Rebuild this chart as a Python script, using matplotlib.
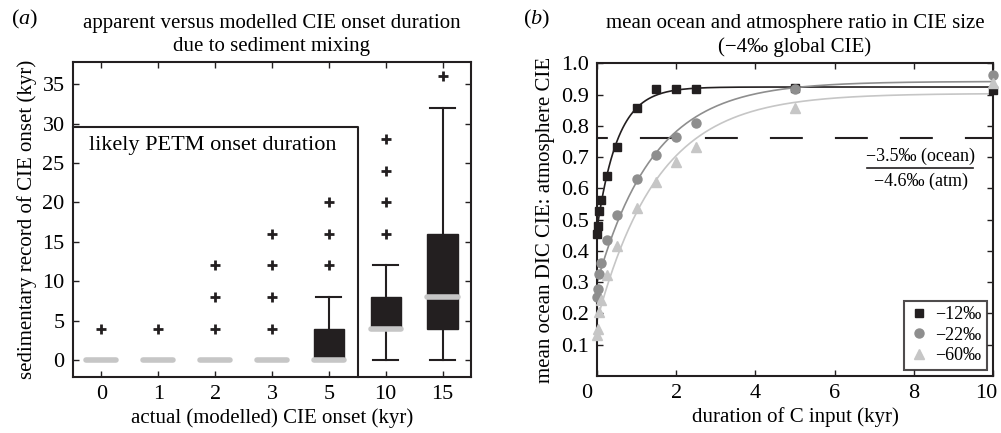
import matplotlib
matplotlib.use('Agg')
import matplotlib.pyplot as plt
import matplotlib.transforms as mtransforms
import numpy as np

plt.rcParams['font.family'] = ['Liberation Serif', 'DejaVu Serif']
plt.rcParams['mathtext.fontset'] = 'custom'
plt.rcParams['mathtext.rm'] = 'Liberation Serif'
plt.rcParams['mathtext.it'] = 'Liberation Serif:italic'

# panel (a): box plot summaries
onset_labels = ['0', '1', '2', '3', '5', '10', '15']
box_q1 = [0, 0, 0, 0, 0, 4, 4]
box_med = [0, 0, 0, 0, 0, 4, 8]
box_q3 = [0, 0, 0, 0, 4, 8, 16]
whisk_lo = [0, 0, 0, 0, 0, 0, 0]
whisk_hi = [0, 0, 0, 0, 8, 12, 32]
outliers = [[4], [4], [4, 8, 12], [4, 8, 12, 16], [12, 16, 20], [16, 20, 24, 28], [36]]

# panel (b): ocean/atmosphere CIE ratio
dur_sq = [0.0, 0.02, 0.05, 0.1, 0.25, 0.5, 1.0, 1.5, 2.0, 2.5, 5.0, 10.0]
ratio_12 = [0.455, 0.479, 0.527, 0.562, 0.64, 0.733, 0.858, 0.918, 0.918, 0.918, 0.92, 0.915]
dur_ci = [0.0, 0.02, 0.05, 0.1, 0.25, 0.5, 1.0, 1.5, 2.0, 2.5, 5.0, 10.0]
ratio_22 = [0.254, 0.279, 0.327, 0.362, 0.436, 0.516, 0.629, 0.706, 0.765, 0.808, 0.917, 0.963]
dur_tr = [0.0, 0.02, 0.05, 0.1, 0.25, 0.5, 1.0, 1.5, 2.0, 2.5, 5.0, 10.0]
ratio_60 = [0.131, 0.15, 0.204, 0.244, 0.324, 0.416, 0.538, 0.621, 0.683, 0.733, 0.858, 0.936]
ocean_atm = 0.762


def exp_fit(x, y):
    # y = a - b*exp(-x/tau), tau by grid search, a,b by least squares
    x = np.asarray(x)
    y = np.asarray(y)
    best = None
    for tau in np.linspace(0.1, 5, 500):
        A = np.column_stack([np.ones_like(x), -np.exp(-x / tau)])
        coef, res, _, _ = np.linalg.lstsq(A, y, rcond=None)
        err = np.sum((A @ coef - y) ** 2)
        if best is None or err < best[0]:
            best = (err, coef, tau)
    xs = np.linspace(x.min(), x.max(), 400)
    return xs, best[1][0] - best[1][1] * np.exp(-xs / best[2])


fig = plt.figure(figsize=(10.01, 4.33), dpi=100)
ax1 = fig.add_axes([0.0729, 0.1293, 0.3976, 0.7275])
ax2 = fig.add_axes([0.5964, 0.1316, 0.3956, 0.7222])

dark = '#231f20'

stats = []
for i in range(len(onset_labels)):
    stats.append({'q1': box_q1[i], 'med': box_med[i], 'q3': box_q3[i],
                  'whislo': whisk_lo[i], 'whishi': whisk_hi[i],
                  'fliers': outliers[i]})
ax1.bxp(stats, positions=range(len(onset_labels)), widths=0.53,
        capwidths=0.44, patch_artist=True, showcaps=True,
        boxprops=dict(facecolor=dark, edgecolor=dark, linewidth=1),
        medianprops=dict(color='#c6c6c6', linewidth=4, solid_capstyle='round'),
        whiskerprops=dict(color=dark, linewidth=1.5),
        capprops=dict(color=dark, linewidth=1.5),
        flierprops=dict(marker='+', markersize=7, markeredgewidth=2,
                        markeredgecolor=dark))
ax1.set_xlim(-0.5, 6.5)
ax1.set_ylim(-2.15, 37.8)
ax1.set_yticks(range(0, 36, 5))
ax1.set_xticks(range(len(onset_labels)))
ax1.set_xticklabels(onset_labels)
ax1.plot([-0.5, 4.51, 4.51], [29.5, 29.5, -2.15], color=dark, lw=1.5, clip_on=False)
ax1.text(1.96, 27.2, 'likely PETM onset duration', ha='center', va='center', fontsize=16)
ax1.set_xlabel('actual (modelled) CIE onset (kyr)', fontsize=15, labelpad=3)
ax1.set_ylabel('sedimentary record of CIE onset (kyr)', fontsize=15, labelpad=4)
ax1.set_title('apparent versus modelled CIE onset duration\ndue to sediment mixing',
              fontsize=15, linespacing=1.3, pad=8)
fig.text(0.011, 0.955, r'($\mathit{a}$)', fontsize=16, va='center')

series = [(dur_sq, ratio_12, 's', dark, 5.5, '\u221212\u2030'),
          (dur_ci, ratio_22, 'o', '#8e8e8e', 6.5, '\u221222\u2030'),
          (dur_tr, ratio_60, '^', '#c6c6c6', 7, '\u221260\u2030')]
for x, y, m, c, ms, lab in series:
    xs, ys = exp_fit(x, y)
    ax2.plot(xs, ys, color=c, lw=1.2, zorder=2)
for x, y, m, c, ms, lab in series:
    ax2.plot(x, y, m, color=c, markersize=ms, label=lab, zorder=3, clip_on=False)

ax2.plot([0, 10], [ocean_atm, ocean_atm], color=dark, lw=1.5,
         linestyle=(10.6, (15.8, 15.4)), zorder=1)
ax2.text(8.17, 0.703, '\u22123.5\u2030 (ocean)', ha='center', va='center', fontsize=13)
ax2.plot([6.82, 9.5], [0.664, 0.664], color=dark, lw=1.2)
ax2.text(8.17, 0.622, '\u22124.6\u2030 (atm)', ha='center', va='center', fontsize=13)

ax2.set_xlim(0, 10)
ax2.set_ylim(0, 1)
ax2.set_xticks(range(0, 11, 2))
ax2.set_yticks(np.round(np.arange(0.1, 1.01, 0.1), 1))
ax2.set_yticklabels(['%.1f' % v for v in np.arange(0.1, 1.01, 0.1)])
ax2.set_xlabel('duration of C input (kyr)', fontsize=15, labelpad=3)
ax2.set_ylabel('mean ocean DIC CIE: atmosphere CIE', fontsize=15, labelpad=4)
ax2.set_title('mean ocean and atmosphere ratio in CIE size\n(\u22124\u2030 global CIE)',
              fontsize=15, linespacing=1.3, pad=8)
fig.text(0.522, 0.955, r'($\mathit{b}$)', fontsize=16, va='center')
leg = ax2.legend(loc='lower right', fontsize=13, frameon=True, fancybox=False,
                 handlelength=1.0, handletextpad=0.4, borderaxespad=0.35,
                 labelspacing=0.2, borderpad=0.3)
leg.get_frame().set_edgecolor(dark)
leg.get_frame().set_linewidth(1.5)

for ax in (ax1, ax2):
    ax.tick_params(direction='in', top=True, right=True, labelsize=16,
                   length=4, width=1, color=dark, pad=6)
    for s in ax.spines.values():
        s.set_linewidth(1.5)
        s.set_color(dark)

# end labels of panel (b) sit a little inwards, as in the original
xlabs = ax2.get_xticklabels()
xlabs[0].set_transform(xlabs[0].get_transform() +
                       mtransforms.ScaledTranslation(-10 / 100, 0, fig.dpi_scale_trans))
xlabs[-1].set_transform(xlabs[-1].get_transform() +
                        mtransforms.ScaledTranslation(-7 / 100, 0, fig.dpi_scale_trans))

fig.savefig('out.png', dpi=100)
